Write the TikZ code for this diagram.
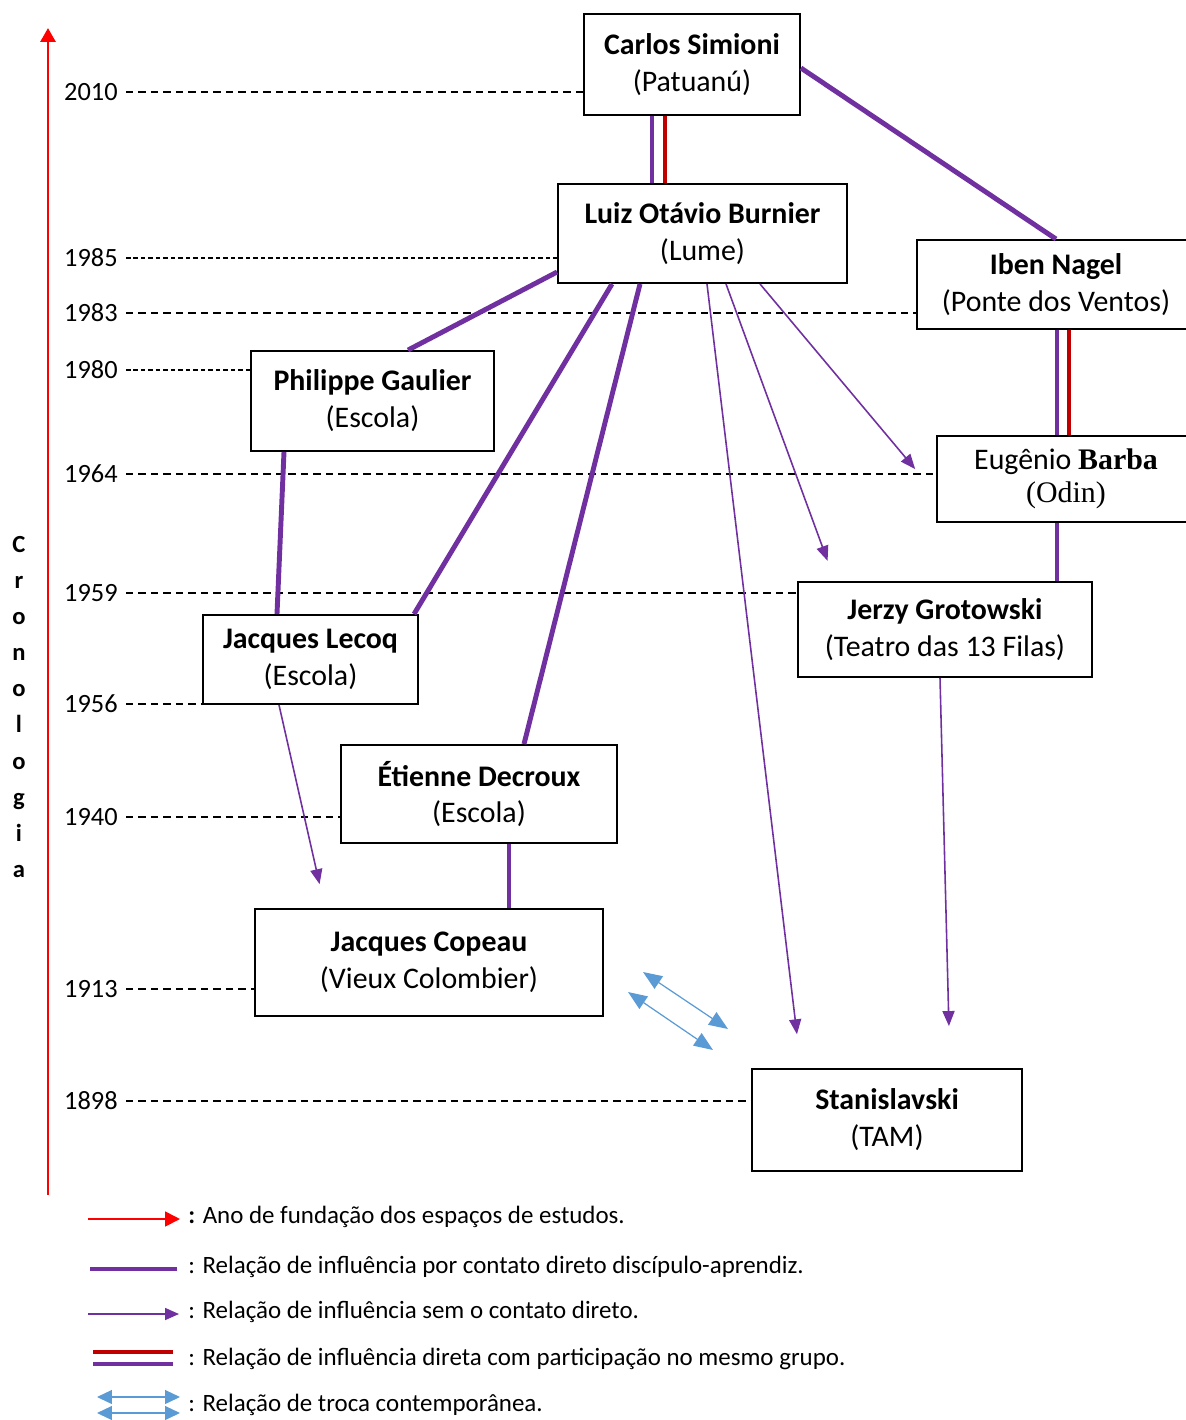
\documentclass[tikz,border=0pt]{standalone}
\usepackage{fontspec}
\setmainfont{Carlito}
\newfontfamily\timesfont{Liberation Serif}
\usetikzlibrary{arrows.meta,calc}
\definecolor{roxo}{HTML}{7030A0}
\definecolor{vermelho}{HTML}{C00000}
\definecolor{azul}{HTML}{5B9BD5}
\begin{document}
\begin{tikzpicture}[x=0.02cm,y=-0.02cm,
    pessoa/.style={draw,line width=1.1pt,align=center,inner sep=0pt,font=\fontsize{17}{21}\selectfont},
    ano/.style={anchor=east,inner xsep=0.16cm,inner ysep=0pt,font=\fontsize{15}{18}\selectfont},
    linhaano/.style={line width=0.8pt,dash pattern=on 0.15cm off 0.1cm},
    linhafina/.style={line width=0.6pt,dash pattern=on 0.09cm off 0.06cm},
    tempo/.style={red,line width=1.7pt,-{Triangle[length=0.28cm,width=0.3cm]}},
    direto/.style={roxo,line width=2.8pt},
    grupo/.style={vermelho,line width=2.8pt},
    indireto/.style={roxo,line width=0.9pt,-{Triangle[length=0.3cm,width=0.24cm]}},
    troca/.style={azul,line width=0.7pt,{Triangle[length=0.38cm,width=0.3cm]}-{Triangle[length=0.38cm,width=0.3cm]}},
    legenda/.style={anchor=base west,inner sep=0pt,font=\fontsize{14.2}{17}\selectfont}]
  \clip (0,0) rectangle (1186,1420);
  % linha do tempo
  \coordinate (base) at (48,1195);
  \coordinate (topo) at (48,28);
  \draw[tempo] (base) -- (topo);
  \node[align=center,inner sep=0pt,font=\fontsize{14}{20.5}\selectfont\bfseries] (crono) at (19,707) {C\\r\\o\\n\\o\\l\\o\\g\\i\\a};

  % pessoas
  \node[pessoa,minimum width=4.32cm,minimum height=2.02cm] (carlos) at (692,64.5) {\textbf{Carlos Simioni}\\(Patuanú)};
  \node[pessoa,minimum width=5.78cm,minimum height=1.98cm] (luiz) at (702.5,233.5) {\textbf{Luiz Otávio Burnier}\\(Lume)};
  \node[pessoa,minimum width=5.56cm,minimum height=1.78cm] (iben) at (1056,284.5) {\textbf{Iben Nagel}\\(Ponte dos Ventos)};
  \node[pessoa,minimum width=5.16cm,minimum height=1.72cm] (eugenio) at (1066,479) {Eugênio {\timesfont\bfseries Barba}\\[-2pt]{\timesfont (Odin)}};
  \node[pessoa,minimum width=4.86cm,minimum height=2.00cm] (philippe) at (372.5,401) {\textbf{Philippe Gaulier}\\(Escola)};
  \node[pessoa,minimum width=5.88cm,minimum height=1.90cm] (jerzy) at (945,629.5) {\textbf{Jerzy Grotowski}\\(Teatro das 13 Filas)};
  \node[pessoa,minimum width=4.30cm,minimum height=1.78cm] (lecoq) at (310.5,659.5) {\textbf{Jacques Lecoq}\\(Escola)};
  \node[pessoa,minimum width=5.52cm,minimum height=1.96cm] (etienne) at (479,794) {\textbf{Étienne Decroux}\\(Escola)};
  \node[pessoa,minimum width=6.96cm,minimum height=2.14cm] (copeau) at (429,962.5) {\textbf{Jacques Copeau}\\(Vieux Colombier)};
  \node[pessoa,minimum width=5.40cm,minimum height=2.04cm] (stan) at (887,1120) {\textbf{Stanislavski}\\(TAM)};

  % anos
  \foreach \ano/\y/\alvo/\estilo in {2010/92/carlos/linhaano, 1985/258/luiz/linhafina,
      1983/313/iben/linhaano, 1980/370/philippe/linhafina, 1964/474/eugenio/linhaano,
      1959/593/jerzy/linhaano, 1956/704/lecoq/linhaano, 1940/817/etienne/linhaano,
      1913/989/copeau/linhaano, 1898/1101/stan/linhaano}{
    \node[ano] (a\ano) at (126,\y) {\ano};
    \draw[\estilo] (a\ano.east) -- (a\ano.east -| \alvo.west);
  }

  % contato direto
  \draw[direto] (carlos.south -| 652,0) -- (luiz.north -| 652,0);
  \draw[grupo] (carlos.south -| 665,0) -- (luiz.north -| 665,0);
  \draw[direto] (carlos.east |- 0,68) -- (iben.north);
  \draw[direto] (luiz.west |- 0,272) -- (philippe.north -| 408,0);
  \draw[direto] (luiz.south -| 612,0) -- (lecoq.north -| 414,0);
  \draw[direto] (luiz.south -| 640,0) -- (etienne.north -| 524,0);
  \draw[direto] (iben.south -| 1057,0) -- (eugenio.north -| 1057,0);
  \draw[grupo] (iben.south -| 1069,0) -- (eugenio.north -| 1069,0);
  \draw[direto] (eugenio.south -| 1057,0) -- (jerzy.north -| 1057,0);
  \draw[direto] (philippe.south -| 284,0) -- (lecoq.north -| 277,0);
  \draw[direto] (etienne.south -| 509,0) -- (copeau.north -| 509,0);

  % sem contato direto
  \draw[indireto,shorten >=0.68cm] (luiz.south -| 707,0) -- (stan.north -| 801,0);
  \draw[indireto,shorten >=0.43cm] (luiz.south -| 726,0) -- (jerzy.north -| 835,0);
  \draw[indireto,shorten >=0.65cm] (luiz.south -| 760,0) -- (eugenio.west |- 0,494);
  \draw[indireto,shorten >=0.49cm] (lecoq.south -| 279,0) -- (copeau.north -| 325,0);
  \draw[indireto,shorten >=0.84cm] (jerzy.south -| 940,0) -- (stan.north -| 950,0);

  % troca contemporanea
  \coordinate (t1a) at (643,972);
  \coordinate (t1b) at (728,1029);
  \coordinate (t2a) at (628,992);
  \coordinate (t2b) at (713,1050);
  \draw[troca] (t1a) -- (t1b);
  \draw[troca] (t2a) -- (t2b);

  % legenda
  \draw[red,line width=1pt,-{Triangle[length=0.3cm,width=0.3cm]}] (88,1219) -- (180,1219);
  \node[legenda] (leg1) at (188,1223) {\textbf{:} Ano de fundação dos espaços de estudos.};
  \draw[direto] (90,1269) -- (177,1269);
  \node[legenda] (leg2) at (188,1273) {: Relação de influência por contato direto discípulo-aprendiz.};
  \draw[roxo,line width=0.9pt,-{Triangle[length=0.28cm,width=0.24cm]}] (88,1314) -- (179,1314);
  \node[legenda] (leg3) at (188,1318) {: Relação de influência sem o contato direto.};
  \draw[grupo] (93,1352) -- (173,1352);
  \draw[direto] (93,1364) -- (173,1364);
  \node[legenda] (leg4) at (188,1365) {: Relação de influência direta com participação no mesmo grupo.};
  \draw[azul,line width=0.7pt,{Triangle[length=0.3cm,width=0.28cm]}-{Triangle[length=0.3cm,width=0.28cm]}] (97,1397) -- (180,1397);
  \draw[azul,line width=0.7pt,{Triangle[length=0.3cm,width=0.28cm]}-{Triangle[length=0.3cm,width=0.28cm]}] (97,1413) -- (180,1413);
  \node[legenda] (leg5) at (188,1411) {: Relação de troca contemporânea.};
\end{tikzpicture}
\end{document}
